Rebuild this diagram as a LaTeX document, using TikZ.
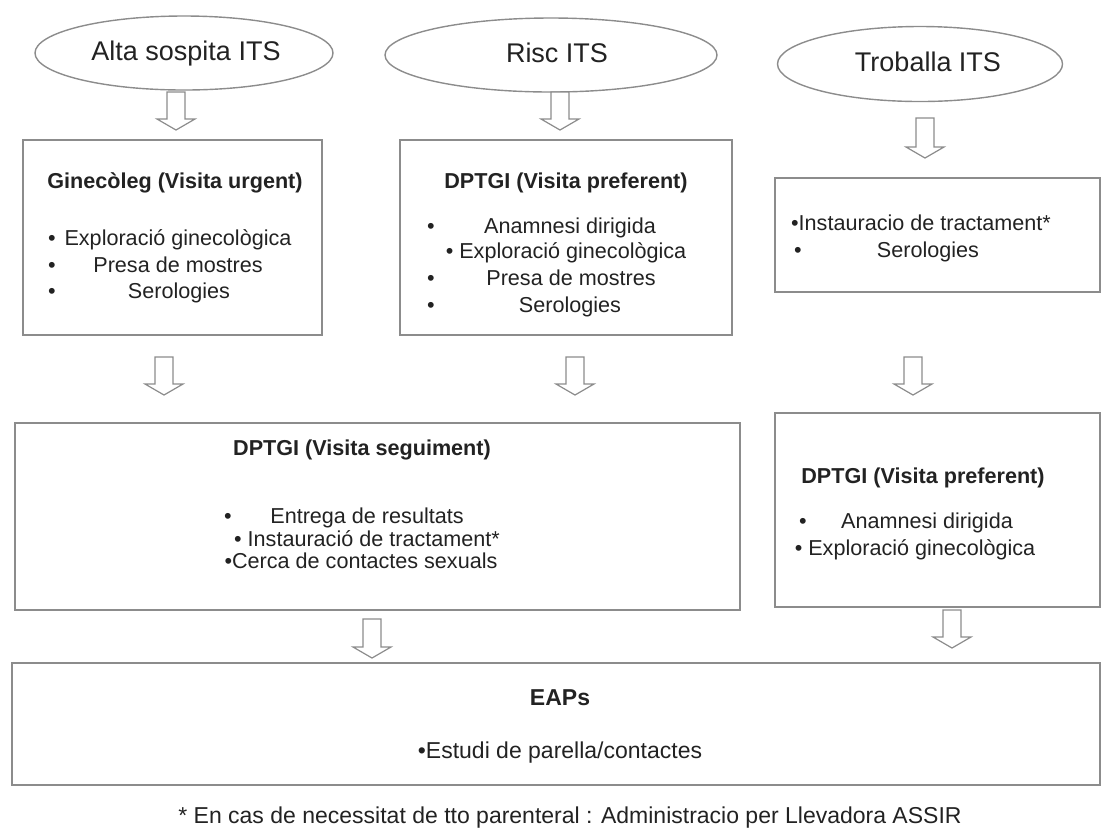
\documentclass[tikz,border=0pt]{standalone}
\usepackage{fontspec}
\setmainfont{Liberation Sans}
\usetikzlibrary{shapes.geometric,calc}
\definecolor{edge}{HTML}{8C8C8C}
\definecolor{ink}{HTML}{222222}
\tikzset{
 ell/.style={ellipse, draw=edge, line width=0.7pt, inner sep=0pt},
 box/.style={rectangle, draw=edge, line width=0.9pt, inner sep=0pt},
 txt/.style={inner sep=0pt, anchor=mid, text=ink, font=\fontsize{10.8}{12}\selectfont},
 ttl/.style={txt, font=\fontsize{10.8}{12}\selectfont\bfseries},
 big/.style={txt, font=\fontsize{13.5}{15}\selectfont},
 lrg/.style={txt, font=\fontsize{11.5}{13}\selectfont},
 lrgb/.style={txt, font=\fontsize{11.5}{13}\selectfont\bfseries},
 harr/.style={draw=edge, line width=0.6pt, fill=white, line join=miter},
}
\newcommand\hollowarrow[2]{\draw[harr] ($(#1)+(-9,0)$) -- ($(#2)+(-9,-11)$) -- ($(#2)+(-19,-11)$) -- (#2) -- ($(#2)+(19,-11)$) -- ($(#2)+(9,-11)$) -- ($(#1)+(9,0)$) -- cycle;}
\begin{document}
\begin{tikzpicture}[x=0.5pt,y=-0.5pt]
\useasboundingbox (0,0) rectangle (1102,827);
% ellipses
\node[ell, minimum width=149pt, minimum height=37pt] (e1) at (184,53) {};
\node[big] (e1t) at (186,55) {Alta sospita ITS};
\node[ell, minimum width=166pt, minimum height=37pt] (e2) at (551,55) {};
\node[big] (e2t) at (557,57) {Risc ITS};
\node[ell, minimum width=142.5pt, minimum height=37.5pt] (e3) at (920,64) {};
\node[big] (e3t) at (928,66) {Troballa ITS};
% boxes
\node[box, minimum width=149.5pt, minimum height=97.5pt] (b1) at (172.5,237.5) {};
\node[box, minimum width=166pt, minimum height=97.5pt] (b2) at (566,237.5) {};
\node[box, minimum width=162.5pt, minimum height=57pt] (b3) at (937.5,235) {};
\node[box, minimum width=362.5pt, minimum height=93.5pt] (b4) at (377.5,516.5) {};
\node[box, minimum width=162.5pt, minimum height=97pt] (b5) at (937.5,510) {};
\node[box, minimum width=544pt, minimum height=61pt] (b6) at (556,724) {};
% B1 text
\node[ttl] (b1t) at (175,183) {Ginecòleg (Visita urgent)};
\node[txt] (b1b1) at (52,240) {•};
\node[txt] (b1i1) at (178,240) {Exploració ginecològica};
\node[txt] (b1b2) at (52,267) {•};
\node[txt] (b1i2) at (178,267) {Presa de mostres};
\node[txt] (b1b3) at (52,293) {•};
\node[txt] (b1i3) at (179,293) {Serologies};
% B2 text
\node[ttl] (b2t) at (566,183) {DPTGI (Visita preferent)};
\node[txt] (b2b1) at (431,228) {•};
\node[txt] (b2i1) at (570,228) {Anamnesi dirigida};
\node[txt] (b2i2) at (566,253) {• Exploració ginecològica};
\node[txt] (b2b3) at (431,280) {•};
\node[txt] (b2i3) at (571,280) {Presa de mostres};
\node[txt] (b2b4) at (431,307) {•};
\node[txt] (b2i4) at (570,307) {Serologies};
% B3 text
\node[txt] (b3i1) at (921,225) {•Instauracio de tractament*};
\node[txt] (b3b2) at (798,252) {•};
\node[txt] (b3i2) at (928,252) {Serologies};
% B4 text
\node[ttl] (b4t) at (362,450) {DPTGI (Visita seguiment)};
\node[txt] (b4b1) at (228,518) {•};
\node[txt] (b4i1) at (367,518) {Entrega de resultats};
\node[txt] (b4i2) at (367,541) {• Instauració de tractament*};
\node[txt] (b4i3) at (361,563) {•Cerca de contactes sexuals};
% B5 text
\node[ttl] (b5t) at (923,478) {DPTGI (Visita preferent)};
\node[txt] (b5b1) at (803,523) {•};
\node[txt] (b5i1) at (927,523) {Anamnesi dirigida};
\node[txt] (b5i2) at (915,550) {• Exploració ginecològica};
% B6 text
\node[lrgb] (b6t) at (560,700) {EAPs};
\node[lrg] (b6i1) at (560,753) {•Estudi de parella/contactes};
% footnote
\node[lrg] (fn) at (570,818) {* En cas de necessitat de tto parenteral : Administracio per Llevadora ASSIR};
% arrows
\coordinate (a1s) at (176,92);  \coordinate (a1e) at (176,130);
\coordinate (a2s) at (560,92);  \coordinate (a2e) at (560,130);
\coordinate (a3s) at (925,118); \coordinate (a3e) at (925,158);
\coordinate (a4s) at (164,357); \coordinate (a4e) at (164,395);
\coordinate (a5s) at (575,357); \coordinate (a5e) at (575,395);
\coordinate (a6s) at (913,357); \coordinate (a6e) at (913,395);
\coordinate (a7s) at (372,619); \coordinate (a7e) at (372,658);
\coordinate (a8s) at (952,610); \coordinate (a8e) at (952,648);
\hollowarrow{a1s}{a1e}
\hollowarrow{a2s}{a2e}
\hollowarrow{a3s}{a3e}
\hollowarrow{a4s}{a4e}
\hollowarrow{a5s}{a5e}
\hollowarrow{a6s}{a6e}
\hollowarrow{a7s}{a7e}
\hollowarrow{a8s}{a8e}
\end{tikzpicture}
\end{document}
